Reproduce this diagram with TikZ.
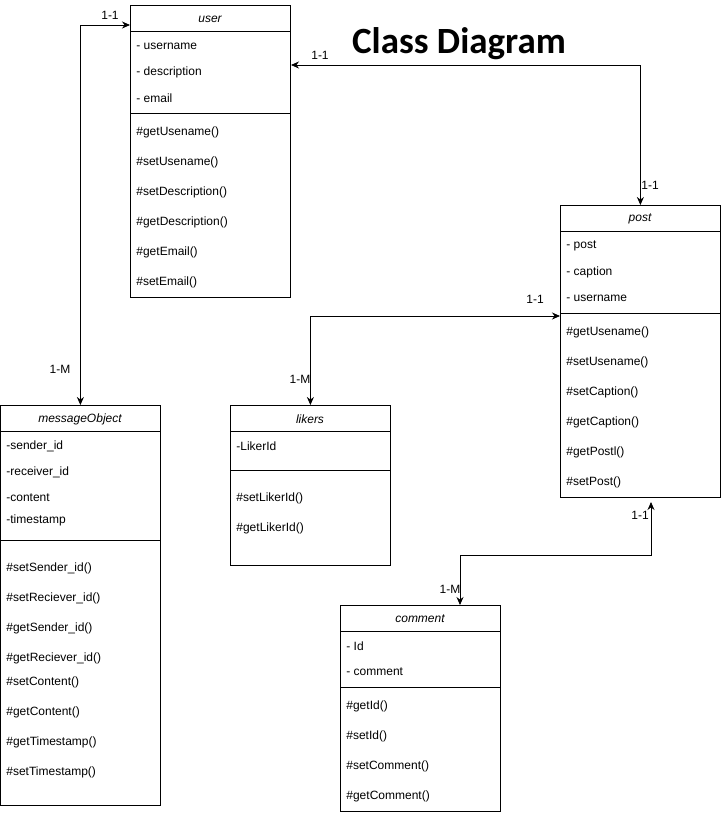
\documentclass[tikz,border=0pt]{standalone}
\usepackage{fontspec}
\setmainfont{Liberation Sans}
\newfontfamily\titlefont{Carlito}
\usetikzlibrary{arrows,arrows.meta,positioning}

\begin{document}
\begin{tikzpicture}[x=1pt,y=-1pt,line width=0.8pt,>={Stealth[length=8pt,width=7pt]},
  every node/.style={font=\fontsize{12}{14}\selectfont},
  classbox/.style={draw,anchor=north west,minimum width=160,inner sep=0},
  row/.style={anchor=west,inner sep=0,yshift=-2pt},
  head/.style={font=\fontsize{12}{14}\selectfont\itshape,inner sep=0,yshift=-1pt},
  card/.style={inner sep=0,font=\fontsize{12}{14}\selectfont}]
\useasboundingbox (0,0) rectangle (721,815);

\node[font=\titlefont\fontsize{37}{40}\selectfont\bfseries] (title) at (459,44) {Class Diagram};

% user
\node[classbox,minimum height=292] (user) at (130,5) {};
\node[head] (uh) at (210,18) {user};
\draw (130,31) -- (290,31);
\node[row] (u1) at (136,44) {- username};
\node[row] (u2) at (136,70) {- description};
\node[row] (u3) at (136,96) {- email};
\draw (130,113) -- (290,113);
\node[row] (u4) at (136,130) {\#getUsename()};
\node[row] (u5) at (136,160) {\#setUsename()};
\node[row] (u6) at (136,190) {\#setDescription()};
\node[row] (u7) at (136,220) {\#getDescription()};
\node[row] (u8) at (136,250) {\#getEmail()};
\node[row] (u9) at (136,280) {\#setEmail()};

% post
\node[classbox,minimum height=292] (post) at (560,205) {};
\node[head] (ph) at (640,218) {post};
\draw (560,231) -- (720,231);
\node[row] (p1) at (566,244) {- post};
\node[row] (p2) at (566,270) {- caption};
\node[row] (p3) at (566,296) {- username};
\draw (560,313) -- (720,313);
\node[row] (p4) at (566,330) {\#getUsename()};
\node[row] (p5) at (566,360) {\#setUsename()};
\node[row] (p6) at (566,390) {\#setCaption()};
\node[row] (p7) at (566,420) {\#getCaption()};
\node[row] (p8) at (566,450) {\#getPostl()};
\node[row] (p9) at (566,480) {\#setPost()};

% messageObject
\node[classbox,minimum height=400] (msg) at (0,405) {};
\node[head] (mh) at (80,418) {messageObject};
\draw (0,431) -- (160,431);
\node[row] (m1) at (6,444) {-sender\_id};
\node[row] (m2) at (6,470) {-receiver\_id};
\node[row] (m3) at (6,496) {-content};
\node[row] (m4) at (6,518) {-timestamp};
\draw (0,540) -- (160,540);
\node[row] (m5) at (6,566) {\#setSender\_id()};
\node[row] (m6) at (6,596) {\#setReciever\_id()};
\node[row] (m7) at (6,626) {\#getSender\_id()};
\node[row] (m8) at (6,656) {\#getReciever\_id()};
\node[row] (m9) at (6,680) {\#setContent()};
\node[row] (m10) at (6,710) {\#getContent()};
\node[row] (m11) at (6,740) {\#getTimestamp()};
\node[row] (m12) at (6,770) {\#setTimestamp()};

% likers
\node[classbox,minimum height=160] (likers) at (230,405) {};
\node[head] (lh) at (310,418) {likers};
\draw (230,431) -- (390,431);
\node[row] (l1) at (236,444) {-LikerId};
\draw (230,470) -- (390,470);
\node[row] (l2) at (236,496) {\#setLikerId()};
\node[row] (l3) at (236,526) {\#getLikerId()};

% comment
\node[classbox,minimum height=206] (comment) at (340,605) {};
\node[head] (ch) at (420,618) {comment};
\draw (340,631) -- (500,631);
\node[row] (c1) at (346,644) {- Id};
\node[row] (c2) at (346,670) {- comment};
\draw (340,687) -- (500,687);
\node[row] (c3) at (346,704) {\#getId()};
\node[row] (c4) at (346,734) {\#setId()};
\node[row] (c5) at (346,764) {\#setComment()};
\node[row] (c6) at (346,794) {\#getComment()};

\coordinate (uin) at (130,25);
\coordinate (uout) at (291,65);
\coordinate (pin) at (560,316);
\coordinate (pbot) at (651,502);
\coordinate (cin) at (460,605);

\draw[<->] (msg.north) |- (uin);
\draw[<->] (uout) -| (post.north);
\draw[<->] (pin) -| (likers.north);
\draw[<->] (pbot) |- (460,555) -- (cin);

\node[card] (k1) at (110,15) {1-1};
\node[card] (k2) at (60,369) {1-M};
\node[card] (k3) at (320,55) {1-1};
\node[card] (k4) at (650,185) {1-1};
\node[card] (k5) at (535,299) {1-1};
\node[card] (k6) at (300,379) {1-M};
\node[card] (k7) at (640,515) {1-1};
\node[card] (k8) at (450,589) {1-M};
\end{tikzpicture}
\end{document}
